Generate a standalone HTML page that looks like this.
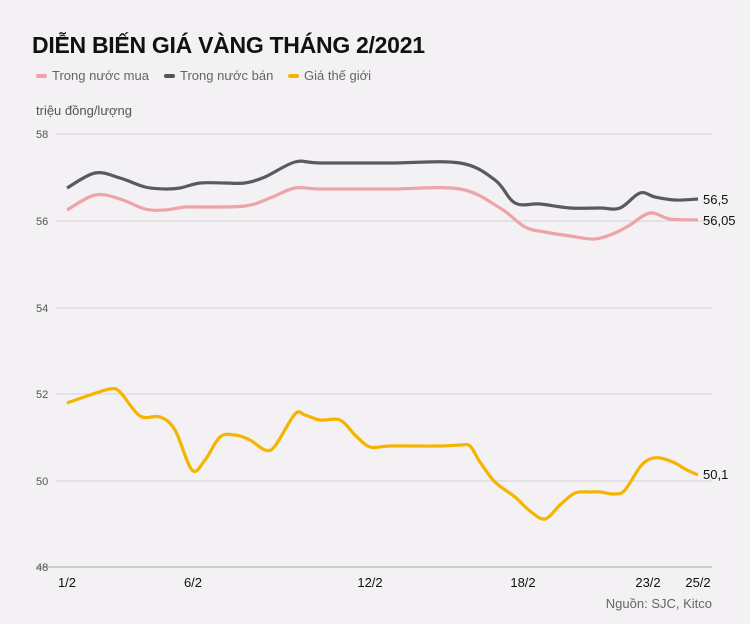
<!DOCTYPE html>
<html><head><meta charset="utf-8"><style>
body{margin:0;background:#f3f1f3;font-family:"Liberation Sans",sans-serif;}
svg{display:block}
</style></head><body>
<svg width="750" height="624" viewBox="0 0 750 624" xmlns="http://www.w3.org/2000/svg" font-family="Liberation Sans, sans-serif">
<rect width="750" height="624" fill="#f3f1f3"/>
<text x="32" y="53" font-size="23" font-weight="bold" fill="#111" textLength="393">DIỄN BIẾN GIÁ VÀNG THÁNG 2/2021</text>
<rect x="36" y="74" width="11" height="4" rx="2" fill="#eda3a8"/>
<text x="52" y="80" font-size="13" fill="#666">Trong nước mua</text>
<rect x="164" y="74" width="11" height="4" rx="2" fill="#555"/>
<text x="180" y="80" font-size="13" fill="#666">Trong nước bán</text>
<rect x="288" y="74" width="11" height="4" rx="2" fill="#f5b400"/>
<text x="304" y="80" font-size="13" fill="#666">Giá thế giới</text>
<text x="36" y="115" font-size="13" fill="#555">triệu đồng/lượng</text>
<g stroke="#d4d2d4" stroke-width="1">
<line x1="56" y1="134" x2="712" y2="134"/><line x1="56" y1="221" x2="712" y2="221"/>
<line x1="56" y1="308" x2="712" y2="308"/><line x1="56" y1="394" x2="712" y2="394"/>
<line x1="56" y1="481" x2="712" y2="481"/></g>
<line x1="36" y1="567" x2="712" y2="567" stroke="#ccc" stroke-width="2"/>
<g font-size="11" fill="#555">
<text x="36" y="138">58</text><text x="36" y="225">56</text><text x="36" y="312">54</text>
<text x="36" y="398">52</text><text x="36" y="485">50</text><text x="36" y="571">48</text></g>
<g font-size="13" fill="#111" text-anchor="middle">
<text x="67" y="587">1/2</text><text x="193" y="587">6/2</text><text x="370" y="587">12/2</text>
<text x="523" y="587">18/2</text><text x="648" y="587">23/2</text><text x="698" y="587">25/2</text></g>
<text x="712" y="608" font-size="13" fill="#666" text-anchor="end">Nguồn: SJC, Kitco</text>
<path id="g" fill="none" stroke="#5a5a5e" stroke-width="3.2" stroke-linejoin="round"/>
<path id="p" fill="none" stroke="#eda3a8" stroke-width="3.2" stroke-linejoin="round"/>
<path id="y" fill="none" stroke="#f5b400" stroke-width="3.2" stroke-linejoin="round"/>
<g font-size="13" fill="#111">
<text x="703" y="204">56,5</text><text x="703" y="225">56,05</text><text x="703" y="479">50,1</text></g>
</svg>
<script>
function cr(p){let d="M"+p[0][0]+","+p[0][1];for(let i=0;i<p.length-1;i++){const a=p[i-1]||p[i],b=p[i],c=p[i+1],e=p[i+2]||c;
d+=" C"+(b[0]+(c[0]-a[0])/6)+","+(b[1]+(c[1]-a[1])/6)+" "+(c[0]-(e[0]-b[0])/6)+","+(c[1]-(e[1]-b[1])/6)+" "+c[0]+","+c[1];}return d;}
const G=[[67,188],[95,173],[120,178],[145,187],[165,189],[180,188],[200,183],[225,183],[245,183],[265,177],[295,162],[320,163],[390,163],[460,163],[495,180],[515,203],[540,204],[570,208],[600,208],[620,208],[640,193],[655,197],[675,200],[698,199]];
const P=[[67,210],[95,195],[120,199],[145,209],[165,210],[185,207],[200,207],[245,206],[270,198],[295,188],[320,189],[390,189],[460,189],[500,208],[525,227],[545,232],[570,236],[595,239],[615,233],[630,225],[650,213],[670,219],[698,220]];
const Y=[[67,403],[90,395],[110,389],[120,392],[140,416],[160,417],[175,430],[192,470],[205,460],[220,437],[235,435],[250,440],[265,450],[275,446],[295,414],[305,415],[320,420],[340,420],[355,435],[370,447],[390,446],[440,446],[460,445],[470,446],[480,462],[495,482],[515,497],[530,511],[545,519],[560,505],[575,493],[590,492],[600,492],[615,494],[625,490],[640,467],[650,459],[660,458],[675,463],[685,469],[698,475]];
document.getElementById("g").setAttribute("d",cr(G));
document.getElementById("p").setAttribute("d",cr(P));
document.getElementById("y").setAttribute("d",cr(Y));
</script>
</body></html>
